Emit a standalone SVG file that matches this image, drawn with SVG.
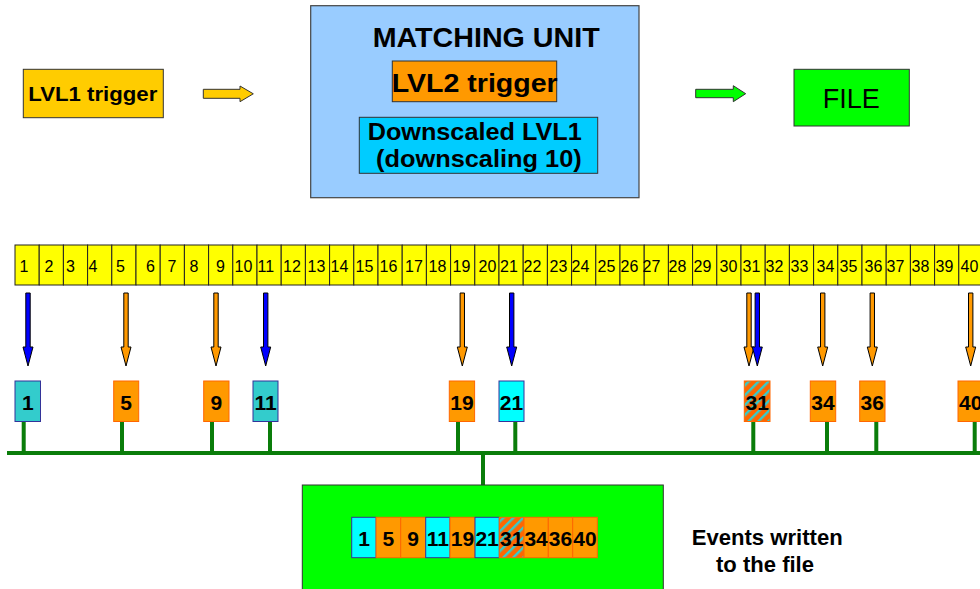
<svg xmlns="http://www.w3.org/2000/svg" width="980" height="589" viewBox="0 0 980 589">
<style>
text{font-family:"Liberation Sans",Arial,sans-serif;fill:#000}
.b{font-weight:bold}
.cell{fill:#FFFF00;stroke:#222;stroke-width:1}
.cn{font-size:16px}
.bn{font-size:21px;font-weight:bold;text-anchor:middle}
.blue{fill:#0000FF;stroke:#000;stroke-width:1}
.orange{fill:#FF9900;stroke:#000;stroke-width:1}
.ob{fill:#FF9900;stroke:#FF6600;stroke-width:1}
.tb{fill:#33CCCC;stroke:#333399;stroke-width:1}
.cb{fill:#00FFFF;stroke:#333399;stroke-width:1}
.sb{fill:url(#stripe);stroke:#FF6600;stroke-width:1}
.bus{stroke:#0A7D0A;stroke-width:4;fill:none}
</style>
<defs>
<pattern id="stripe" patternUnits="userSpaceOnUse" width="7" height="7" patternTransform="rotate(-45)">
<rect width="7" height="7" fill="#FF6600"/>
<rect y="0" width="7" height="2.4" fill="#33CCCC"/>
</pattern>
<path id="darr" d="M-2.2 293 H2.2 V347 H5 L0 366 L-5 347 H-2.2 Z"/>
</defs>

<g id="lvl1">
<rect x="23.3" y="69.3" width="140" height="48.4" fill="#FFCC00" stroke="#333" stroke-width="1"/>
<text class="b" x="28.3" y="101" font-size="21" textLength="129" lengthAdjust="spacingAndGlyphs">LVL1 trigger</text>
</g>

<g id="matching-unit">
<rect x="310.7" y="5.7" width="328.3" height="192" fill="#99CCFF" stroke="#444" stroke-width="1.2"/>
<text class="b" x="372.7" y="46.7" font-size="28" textLength="227" lengthAdjust="spacingAndGlyphs">MATCHING UNIT</text>
</g>
<g id="lvl2">
<rect x="392.3" y="61" width="164.4" height="40.7" fill="#FF9900" stroke="#333" stroke-width="1"/>
<text class="b" x="391.7" y="91.7" font-size="26" textLength="166" lengthAdjust="spacingAndGlyphs">LVL2 trigger</text>
</g>
<g id="downscaled">
<rect x="359.3" y="117.3" width="238.4" height="56" fill="#00CCFF" stroke="#333" stroke-width="1"/>
<text class="b" x="367.7" y="139.5" font-size="23" textLength="214" lengthAdjust="spacingAndGlyphs">Downscaled LVL1</text>
<text class="b" x="376" y="166.5" font-size="23" textLength="205.7" lengthAdjust="spacingAndGlyphs">(downscaling 10)</text>
</g>

<g id="file">
<rect x="794" y="69.3" width="115.3" height="56.7" fill="#00FF00" stroke="#333" stroke-width="1"/>
<text x="822.7" y="107.7" font-size="28" textLength="57" lengthAdjust="spacingAndGlyphs">FILE</text>
</g>

<g id="connectors">
<path d="M203.3 89.3 H240 V86 L253.3 93.8 L240 101.7 V98.3 H203.3 Z" fill="#FFCC00" stroke="#333" stroke-width="1"/>
<path d="M695.7 89.3 H733.3 V85.7 L745.7 93.7 L733.3 101.7 V97.7 H695.7 Z" fill="#00FF00" stroke="#333" stroke-width="1"/>
<use href="#darr" class="blue" x="28"/>
<use href="#darr" class="orange" x="126"/>
<use href="#darr" class="orange" x="216"/>
<use href="#darr" class="blue" x="265.7"/>
<use href="#darr" class="orange" x="462.3"/>
<use href="#darr" class="blue" x="511.7"/>
<use href="#darr" class="orange" x="749"/>
<use href="#darr" class="blue" x="757.3"/>
<use href="#darr" class="orange" x="822.7"/>
<use href="#darr" class="orange" x="872.3"/>
<use href="#darr" class="orange" x="970.7"/>
<path class="bus" d="M7 453 H980"/>
<path class="bus" d="M23.7 421 V453 M122 421 V453 M212 421 V453 M270 421 V453 M458 421 V453 M515.3 421 V453 M753.3 421 V453 M827 421 V453 M876.3 421 V453 M974.7 421 V453 M483 453 V486"/>
</g>

<g id="timeline">
<g id="cells">
<rect class="cell" x="15" y="245" width="24.2" height="40"/>
<rect class="cell" x="39.2" y="245" width="24.2" height="40"/>
<rect class="cell" x="63.4" y="245" width="24.2" height="40"/>
<rect class="cell" x="87.6" y="245" width="24.2" height="40"/>
<rect class="cell" x="111.8" y="245" width="24.2" height="40"/>
<rect class="cell" x="136" y="245" width="24.2" height="40"/>
<rect class="cell" x="160.2" y="245" width="24.2" height="40"/>
<rect class="cell" x="184.4" y="245" width="24.2" height="40"/>
<rect class="cell" x="208.6" y="245" width="24.2" height="40"/>
<rect class="cell" x="232.8" y="245" width="24.2" height="40"/>
<rect class="cell" x="257" y="245" width="24.2" height="40"/>
<rect class="cell" x="281.2" y="245" width="24.2" height="40"/>
<rect class="cell" x="305.4" y="245" width="24.2" height="40"/>
<rect class="cell" x="329.6" y="245" width="24.2" height="40"/>
<rect class="cell" x="353.8" y="245" width="24.2" height="40"/>
<rect class="cell" x="378" y="245" width="24.2" height="40"/>
<rect class="cell" x="402.2" y="245" width="24.2" height="40"/>
<rect class="cell" x="426.4" y="245" width="24.2" height="40"/>
<rect class="cell" x="450.6" y="245" width="24.2" height="40"/>
<rect class="cell" x="474.8" y="245" width="24.2" height="40"/>
<rect class="cell" x="499" y="245" width="24.2" height="40"/>
<rect class="cell" x="523.2" y="245" width="24.2" height="40"/>
<rect class="cell" x="547.4" y="245" width="24.2" height="40"/>
<rect class="cell" x="571.6" y="245" width="24.2" height="40"/>
<rect class="cell" x="595.8" y="245" width="24.2" height="40"/>
<rect class="cell" x="620" y="245" width="24.2" height="40"/>
<rect class="cell" x="644.2" y="245" width="24.2" height="40"/>
<rect class="cell" x="668.4" y="245" width="24.2" height="40"/>
<rect class="cell" x="692.6" y="245" width="24.2" height="40"/>
<rect class="cell" x="716.8" y="245" width="24.2" height="40"/>
<rect class="cell" x="741" y="245" width="24.2" height="40"/>
<rect class="cell" x="765.2" y="245" width="24.2" height="40"/>
<rect class="cell" x="789.4" y="245" width="24.2" height="40"/>
<rect class="cell" x="813.6" y="245" width="24.2" height="40"/>
<rect class="cell" x="837.8" y="245" width="24.2" height="40"/>
<rect class="cell" x="862" y="245" width="24.2" height="40"/>
<rect class="cell" x="886.2" y="245" width="24.2" height="40"/>
<rect class="cell" x="910.4" y="245" width="24.2" height="40"/>
<rect class="cell" x="934.6" y="245" width="24.2" height="40"/>
<rect class="cell" x="958.8" y="245" width="24.2" height="40"/>
</g>
<g class="cn">
<text x="19.5" y="272">1</text>
<text x="44.5" y="272">2</text>
<text x="66" y="272">3</text>
<text x="88.5" y="272">4</text>
<text x="116" y="272">5</text>
<text x="146" y="272">6</text>
<text x="167.5" y="272">7</text>
<text x="189.5" y="272">8</text>
<text x="216" y="272">9</text>
<text x="234.5" y="272">10</text>
<text x="257.5" y="272">11</text>
<text x="283" y="272">12</text>
<text x="307.5" y="272">13</text>
<text x="330.5" y="272">14</text>
<text x="355.5" y="272">15</text>
<text x="379.5" y="272">16</text>
<text x="405" y="272">17</text>
<text x="428.5" y="272">18</text>
<text x="452.5" y="272">19</text>
<text x="478.5" y="272">20</text>
<text x="500" y="272">21</text>
<text x="523.5" y="272">22</text>
<text x="549.5" y="272">23</text>
<text x="571.5" y="272">24</text>
<text x="597.5" y="272">25</text>
<text x="620.5" y="272">26</text>
<text x="642.5" y="272">27</text>
<text x="668.5" y="272">28</text>
<text x="693.5" y="272">29</text>
<text x="719.5" y="272">30</text>
<text x="742.5" y="272">31</text>
<text x="765.5" y="272">32</text>
<text x="790.5" y="272">33</text>
<text x="816.5" y="272">34</text>
<text x="839.5" y="272">35</text>
<text x="864.5" y="272">36</text>
<text x="886.5" y="272">37</text>
<text x="911.5" y="272">38</text>
<text x="935.5" y="272">39</text>
<text x="960.5" y="272">40</text>
</g>
</g>

<g id="ev1"><rect class="tb" x="15" y="381" width="25.5" height="40.5"/><text class="bn" x="27.8" y="410">1</text></g>
<g id="ev5"><rect class="ob" x="113.7" y="381" width="25" height="40.5"/><text class="bn" x="126.2" y="410">5</text></g>
<g id="ev9"><rect class="ob" x="203.7" y="381" width="25.3" height="40.5"/><text class="bn" x="216.3" y="410">9</text></g>
<g id="ev11"><rect class="tb" x="253" y="381" width="25" height="40.5"/><text class="bn" x="265.5" y="410">11</text></g>
<g id="ev19"><rect class="ob" x="449.3" y="381" width="25.3" height="40.5"/><text class="bn" x="462" y="410">19</text></g>
<g id="ev21"><rect class="cb" x="499" y="381" width="25" height="40.5"/><text class="bn" x="511.5" y="410">21</text></g>
<g id="ev31"><rect class="sb" x="744.3" y="381" width="25.7" height="40.5"/><text class="bn" x="757.2" y="410">31</text></g>
<g id="ev34"><rect class="ob" x="810.3" y="381" width="25.4" height="40.5"/><text class="bn" x="823" y="410">34</text></g>
<g id="ev36"><rect class="ob" x="859.7" y="381" width="25.3" height="40.5"/><text class="bn" x="872.3" y="410">36</text></g>
<g id="ev40"><rect class="ob" x="958" y="381" width="25.3" height="40.5"/><text class="bn" x="970.7" y="410">40</text></g>

<g id="file-events">
<rect x="302.3" y="485" width="361" height="110" fill="#00FF00" stroke="#333" stroke-width="1"/>
<rect class="cb" x="351.7" y="517.3" width="24.4" height="40.4"/>
<rect class="ob" x="376.1" y="517.3" width="24.6" height="40.4"/>
<rect class="ob" x="400.7" y="517.3" width="25" height="40.4"/>
<rect class="cb" x="425.7" y="517.3" width="24.3" height="40.4"/>
<rect class="ob" x="450" y="517.3" width="25" height="40.4"/>
<rect class="cb" x="475" y="517.3" width="24.3" height="40.4"/>
<rect class="sb" x="499.3" y="517.3" width="24.7" height="40.4"/>
<rect class="ob" x="524" y="517.3" width="24.3" height="40.4"/>
<rect class="ob" x="548.3" y="517.3" width="24.4" height="40.4"/>
<rect class="ob" x="572.7" y="517.3" width="24.6" height="40.4"/>
<text class="bn" x="364" y="546">1</text>
<text class="bn" x="388.4" y="546">5</text>
<text class="bn" x="413.2" y="546">9</text>
<text class="bn" x="437.9" y="546">11</text>
<text class="bn" x="462.5" y="546">19</text>
<text class="bn" x="487.1" y="546">21</text>
<text class="bn" x="511.7" y="546">31</text>
<text class="bn" x="536.1" y="546">34</text>
<text class="bn" x="560.5" y="546">36</text>
<text class="bn" x="585" y="546">40</text>
</g>

<g id="caption">
<text class="b" x="691.7" y="545" font-size="22" textLength="151" lengthAdjust="spacingAndGlyphs">Events written</text>
<text class="b" x="716" y="571.7" font-size="22" textLength="98" lengthAdjust="spacingAndGlyphs">to the file</text>
</g>
</svg>
